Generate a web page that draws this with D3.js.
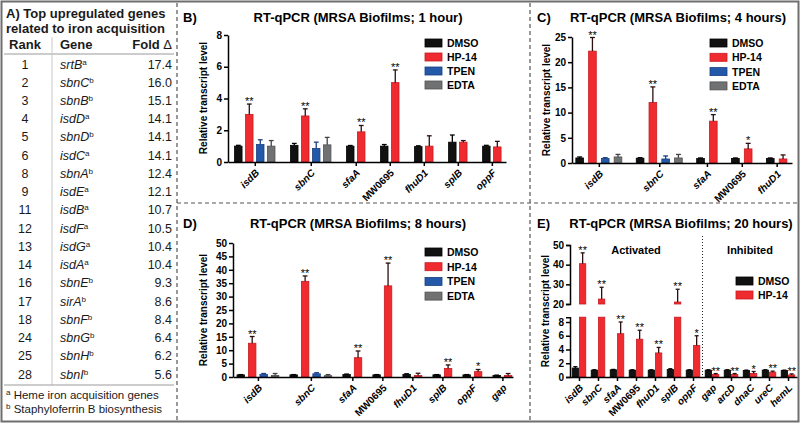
<!DOCTYPE html>
<html>
<head>
<meta charset="utf-8">
<script src="https://cdn.jsdelivr.net/npm/d3@7"></script>
<style>
body { margin: 0; background: #fff; }
svg { display: block; font-family: "Liberation Sans", Arial, sans-serif; }
</style>
</head>
<body>
<div id="chart"></div>
<script>
// ---- panel A table ----
var tableRank = [1, 2, 3, 4, 5, 6, 8, 9, 11, 12, 13, 14, 16, 17, 18, 24, 25, 28];
var tableGene = ['srtB', 'sbnC', 'sbnB', 'isdD', 'sbnD', 'isdC', 'sbnA', 'isdE', 'isdB',
    'isdF', 'isdG', 'isdA', 'sbnE', 'sirA', 'sbnF', 'sbnG', 'sbnH', 'sbnI'];
var tableNote = ['a', 'b', 'b', 'a', 'b', 'a', 'b', 'a', 'a', 'a', 'a', 'a', 'b', 'b', 'b', 'b', 'b', 'b'];
var tableFold = ['17.4', '16.0', '15.1', '14.1', '14.1', '14.1', '12.4', '12.1', '10.7',
    '10.5', '10.4', '10.4', '9.3', '8.6', '8.4', '6.4', '6.2', '5.6'];
var footNotes = ['Heme iron acquisition genes', 'Staphyloferrin B biosynthesis'];

var seriesNames = ['DMSO', 'HP-14', 'TPEN', 'EDTA'];

// ---- panel B: 1 hour ----
var genesB = ['isdB', 'sbnC', 'sfaA', 'MW0695', 'fhuD1', 'splB', 'oppF'];
var dmsoB = [1.0, 1.05, 1.0, 1.0, 0.97, 1.25, 1.0];
var dmsoErrB = [0.05, 0.12, 0.04, 0.1, 0.05, 0.45, 0.05];
var hp14B = [3.0, 2.9, 1.9, 5.0, 1.0, 1.25, 0.95];
var hp14ErrB = [0.65, 0.45, 0.4, 0.8, 0.65, 0.1, 0.35];
var tpenB = [1.1, 0.85];
var tpenErrB = [0.3, 0.4];
var edtaB = [1.0, 1.08];
var edtaErrB = [0.35, 0.47];
var starsB = ['**', '**', '**', '**', '', '', ''];
var yTicksB = [0, 2, 4, 6, 8];

// ---- panel C: 4 hours ----
var genesC = ['isdB', 'sbnC', 'sfaA', 'MW0695', 'fhuD1'];
var dmsoC = [1.0, 0.95, 0.9, 0.9, 0.9];
var dmsoErrC = [0.2, 0.1, 0.1, 0.1, 0.1];
var hp14C = [22.2, 12.0, 8.3, 2.8, 0.8];
var hp14ErrC = [2.7, 3.1, 1.3, 1.1, 0.8];
var tpenC = [0.9, 0.8];
var tpenErrC = [0.15, 0.6];
var edtaC = [1.2, 1.0];
var edtaErrC = [0.5, 0.7];
var starsC = ['**', '**', '**', '*', ''];
var yTicksC = [0, 5, 10, 15, 20, 25];

// ---- panel D: 8 hours ----
var genesD = ['isdB', 'sbnC', 'sfaA', 'MW0695', 'fhuD1', 'splB', 'oppF', 'gap'];
var dmsoD = [0.8, 0.8, 0.9, 0.8, 1.0, 0.8, 0.8, 0.6];
var dmsoErrD = [0.1, 0.1, 0.2, 0.1, 0.2, 0.1, 0.1, 0.1];
var hp14D = [12.6, 35.7, 7.2, 34.0, 0.6, 3.2, 2.0, 0.6];
var hp14ErrD = [2.5, 2.0, 2.5, 8.5, 0.8, 1.3, 0.8, 0.7];
var tpenD = [1.0, 1.2];
var tpenErrD = [0.3, 0.4];
var edtaD = [0.6, 0.5];
var edtaErrD = [0.7, 0.4];
var starsD = ['**', '**', '**', '**', '', '**', '*', ''];
var yTicksD = [0, 5, 10, 15, 20, 25, 30, 35, 40, 45, 50];

// ---- panel E: 20 hours ----
var genesE = ['isdB', 'sbnC', 'sfaA', 'MW0695', 'fhuD1', 'splB', 'oppF',
    'gap', 'arcD', 'dnaC', 'ureC', 'hemL'];
var dmsoE = [1.3, 1.0, 1.05, 1.0, 1.0, 1.1, 1.0, 1.0, 1.0, 0.95, 1.0, 0.95];
var dmsoErrE = [0.2, 0.05, 0.05, 0.05, 0.05, 0.1, 0.05, 0.05, 0.05, 0.05, 0.05, 0.05];
var hp14E = [40.5, 22.5, 6.3, 5.5, 3.5, 21.0, 4.6, 0.35, 0.35, 0.5, 0.7, 0.3];
var hp14ErrE = [5.5, 6.0, 1.7, 1.3, 0.8, 6.5, 1.4, 0.15, 0.15, 0.3, 0.15, 0.15];
var starsE = ['**', '**', '**', '**', '**', '**', '*', '**', '**', '*', '**', '**'];
var groupLabelsE = ['Activated', 'Inhibited'];
var yTicksELow = [0, 2, 4, 6, 8];
var yTicksEHigh = [20, 30, 40, 50];

var fills = {'DMSO': '#111111', 'HP-14': '#ef2b30', 'TPEN': '#2458a8', 'EDTA': '#707173'};
var strokes = {'DMSO': '#000000', 'HP-14': '#c81b20', 'TPEN': '#1a3f80', 'EDTA': '#505153'};
var errStroke = {'DMSO': '#000000', 'HP-14': '#2a1010', 'TPEN': '#1a3f80', 'EDTA': '#444444'};

var svg = d3.select('#chart').append('svg').attr('width', 800).attr('height', 423);

/* frame and panel dividers */
svg.append('rect').attr('x', 1.5).attr('y', 1.5).attr('width', 797).attr('height', 420)
    .attr('fill', 'none').attr('stroke', '#6e6e6e').attr('stroke-width', 2);
function dashed(x1, y1, x2, y2) {
    svg.append('line').attr('x1', x1).attr('y1', y1).attr('x2', x2).attr('y2', y2)
        .attr('stroke', '#555').attr('stroke-width', 1.2).attr('stroke-dasharray', '4,3');
}
dashed(177, 3, 177, 420);
dashed(177, 203, 797, 203);
dashed(530, 3, 530, 420);

/* ---------- panel A ---------- */
var gA = svg.append('g').attr('fill', '#1a1a1a');
gA.append('text').attr('x', 6).attr('y', 18).attr('font-size', 13).attr('font-weight', 'bold')
    .text('A) Top upregulated genes');
gA.append('text').attr('x', 6).attr('y', 33).attr('font-size', 13).attr('font-weight', 'bold')
    .text('related to iron acquisition');
gA.append('text').attr('x', 25).attr('y', 49).attr('text-anchor', 'middle')
    .attr('font-size', 13).attr('font-weight', 'bold').text('Rank');
gA.append('text').attr('x', 60).attr('y', 49)
    .attr('font-size', 13).attr('font-weight', 'bold').text('Gene');
var foldHead = gA.append('text').attr('x', 172).attr('y', 49).attr('text-anchor', 'end')
    .attr('font-size', 13).attr('font-weight', 'bold');
foldHead.append('tspan').text('Fold ');
foldHead.append('tspan').attr('font-weight', 'normal').text('\u0394');

gA.append('line').attr('x1', 4).attr('x2', 174).attr('y1', 54).attr('y2', 54)
    .attr('stroke', '#9a9a9a').attr('stroke-width', 1);
gA.append('line').attr('x1', 52).attr('x2', 52).attr('y1', 37).attr('y2', 385)
    .attr('stroke', '#c8c8c8').attr('stroke-width', 1);
gA.append('line').attr('x1', 4).attr('x2', 174).attr('y1', 385).attr('y2', 385)
    .attr('stroke', '#9a9a9a').attr('stroke-width', 1);

var rowY = d3.scaleLinear().domain([0, tableRank.length - 1]).range([68.5, 378.5]);
tableRank.forEach(function (r, i) {
    gA.append('text').attr('x', 25).attr('y', rowY(i)).attr('text-anchor', 'middle')
        .attr('font-size', 12.5).text(r);
    var t = gA.append('text').attr('x', 60).attr('y', rowY(i)).attr('font-size', 12.5);
    t.append('tspan').attr('font-style', 'italic').text(tableGene[i]);
    t.append('tspan').attr('font-size', 8).attr('dy', -4).text(tableNote[i]);
    gA.append('text').attr('x', 172).attr('y', rowY(i)).attr('text-anchor', 'end')
        .attr('font-size', 12.5).text(tableFold[i]);
});
footNotes.forEach(function (f, i) {
    var t = gA.append('text').attr('x', 6).attr('y', 399 + i * 14).attr('font-size', 11.5);
    t.append('tspan').attr('font-size', 8).attr('dy', -4).text(i === 0 ? 'a' : 'b');
    t.append('tspan').attr('dy', 4).text(' ' + f);
});

/* ---------- bar panels ---------- */
function styleAxis(ga) {
    ga.attr('font-family', null).attr('font-size', null);
    ga.select('.domain').attr('stroke', '#000').attr('stroke-width', 1.5);
    ga.selectAll('.tick line').attr('stroke', '#000').attr('stroke-width', 1.5);
    ga.selectAll('.tick text').attr('font-size', 10).attr('font-weight', 'bold').attr('fill', '#000');
}

function drawPanel(p) {
    var g = svg.append('g');
    var unit = p.padL, bars = [], centers = [], starts = [];
    p.genes.forEach(function (gene, i) {
        var k = 0, start = unit;
        p.series.forEach(function (s) {
            if (i < s.values.length) {
                bars.push({name: s.name, u: unit + k, v: s.values[i], e: s.errors[i], i: i});
                k++;
            }
        });
        starts.push(start);
        centers.push(start + (k - 1 + p.barW) / 2);
        unit += k + p.gap;
    });
    var total = unit - p.gap - 1 + p.barW + p.padR;
    var x = d3.scaleLinear().domain([0, total]).range([p.x0, p.x1]);

    bars.forEach(function (b) {
        var bx0 = x(b.u), bx1 = x(b.u + p.barW), cx = (bx0 + bx1) / 2, cw = (bx1 - bx0) * 0.32;
        p.segments(b.v).forEach(function (sg) {
            g.append('rect').attr('x', bx0).attr('y', sg[0]).attr('width', bx1 - bx0)
                .attr('height', Math.max(0, sg[1] - sg[0]))
                .attr('fill', fills[b.name]).attr('stroke', strokes[b.name]).attr('stroke-width', 0.8);
        });
        var yt = p.y(b.v + b.e), yb = p.y(b.v);
        g.append('line').attr('x1', cx).attr('x2', cx).attr('y1', yb).attr('y2', yt)
            .attr('stroke', errStroke[b.name]).attr('stroke-width', 1.3);
        g.append('line').attr('x1', cx - cw).attr('x2', cx + cw).attr('y1', yt).attr('y2', yt)
            .attr('stroke', errStroke[b.name]).attr('stroke-width', 1.3);
        if (b.name === 'HP-14' && p.stars[b.i]) {
            g.append('text').attr('x', cx).attr('y', yt + 1).attr('text-anchor', 'middle')
                .attr('font-size', 11).attr('fill', '#000').text(p.stars[b.i]);
        }
    });

    var gx = g.append('g').attr('transform', 'translate(0,' + p.baseY + ')')
        .call(d3.axisBottom(x).tickValues(centers).tickSize(4).tickSizeOuter(0)
            .tickFormat(function (d) { return p.genes[centers.indexOf(d)]; }));
    styleAxis(gx);
    gx.selectAll('.tick text').attr('x', 0).attr('y', 0).attr('dy', '0.35em')
        .attr('transform', 'translate(2,9) rotate(-45)').style('text-anchor', 'end')
        .attr('font-style', function (d) {
            return /^MW/.test(p.genes[centers.indexOf(d)]) ? 'normal' : 'italic';
        });

    p.drawY(g);

    g.append('text').attr('transform', 'translate(' + p.yLabelX + ',' + p.yLabelY + ') rotate(-90)')
        .attr('text-anchor', 'middle').attr('font-size', 10).attr('font-weight', 'bold')
        .text('Relative transcript level');
    g.append('text').attr('x', p.letterX).attr('y', p.titleY).attr('font-size', 13)
        .attr('font-weight', 'bold').text(p.letter);
    g.append('text').attr('x', p.titleX).attr('y', p.titleY).attr('text-anchor', 'middle')
        .attr('font-size', 13).attr('font-weight', 'bold').text(p.title);

    p.series.forEach(function (s, k) {
        var ly = p.legY + k * p.legStep;
        g.append('rect').attr('x', p.legX).attr('y', ly - 4).attr('width', 17).attr('height', 8)
            .attr('fill', fills[s.name]).attr('stroke', strokes[s.name]).attr('stroke-width', 0.8);
        g.append('text').attr('x', p.legX + 22).attr('y', ly + 4).attr('font-size', 10.5)
            .attr('font-weight', 'bold').text(s.name);
    });
    return {g: g, x: x, starts: starts, centers: centers, barW: p.barW, gap: p.gap};
}

function plainPanel(ticks, domainMax, y0, y1, axisX) {
    var y = d3.scaleLinear().domain([0, domainMax]).range([y0, y1]);
    return {
        y: y,
        segments: function (v) { return [[y(v), y(0)]]; },
        drawY: function (g) {
            var ga = g.append('g').attr('transform', 'translate(' + axisX + ',0)')
                .call(d3.axisLeft(y).tickValues(ticks).tickSize(4).tickSizeOuter(0).tickPadding(2));
            styleAxis(ga);
        }
    };
}

function mkSeries(names, vals, errs) {
    return names.map(function (n, k) { return {name: n, values: vals[k], errors: errs[k]}; });
}

var yB = plainPanel(yTicksB, 8, 162, 35, 228);
drawPanel({
    genes: genesB, stars: starsB,
    series: mkSeries(seriesNames, [dmsoB, hp14B, tpenB, edtaB], [dmsoErrB, hp14ErrB, tpenErrB, edtaErrB]),
    x0: 228, x1: 506, baseY: 162, barW: 0.68, gap: 1.1, padL: 0.6, padR: 0.45,
    y: yB.y, segments: yB.segments, drawY: yB.drawY,
    yLabelX: 207, yLabelY: 98, letter: 'B)', letterX: 183, title: 'RT-qPCR (MRSA Biofilms; 1 hour)',
    titleX: 358, titleY: 22, legX: 425, legY: 43, legStep: 14
});

var yC = plainPanel(yTicksC, 25, 163, 37, 572);
drawPanel({
    genes: genesC, stars: starsC,
    series: mkSeries(seriesNames, [dmsoC, hp14C, tpenC, edtaC], [dmsoErrC, hp14ErrC, tpenErrC, edtaErrC]),
    x0: 572, x1: 792, baseY: 163, barW: 0.6, gap: 0.73, padL: 0.3, padR: 0.4,
    y: yC.y, segments: yC.segments, drawY: yC.drawY,
    yLabelX: 550, yLabelY: 100, letter: 'C)', letterX: 537, title: 'RT-qPCR (MRSA Biofilms; 4 hours)',
    titleX: 678, titleY: 22, legX: 710, legY: 43, legStep: 14.3
});

var yD = plainPanel(yTicksD, 50, 377, 243, 233);
drawPanel({
    genes: genesD, stars: starsD,
    series: mkSeries(seriesNames, [dmsoD, hp14D, tpenD, edtaD], [dmsoErrD, hp14ErrD, tpenErrD, edtaErrD]),
    x0: 233, x1: 513, baseY: 377, barW: 0.65, gap: 0.62, padL: 0.35, padR: 0.1,
    y: yD.y, segments: yD.segments, drawY: yD.drawY,
    yLabelX: 207, yLabelY: 310, letter: 'D)', letterX: 183, title: 'RT-qPCR (MRSA Biofilms; 8 hours)',
    titleX: 358, titleY: 228, legX: 425, legY: 252, legStep: 14.7
});

/* panel E: broken y axis */
var lowMax = 8.7;
var yLow = d3.scaleLinear().domain([0, 8]).range([377, 322]);
var yHigh = d3.scaleLinear().domain([20, 50]).range([304, 245]);
function yE(v) { return v <= lowMax ? yLow(v) : yHigh(Math.max(v, 20)); }
var panelE = drawPanel({
    genes: genesE, stars: starsE,
    series: mkSeries(seriesNames.slice(0, 2), [dmsoE, hp14E], [dmsoErrE, hp14ErrE]),
    x0: 570, x1: 797, baseY: 377, barW: 0.86, gap: 0.6, padL: 0.3, padR: 0.3,
    y: yE,
    segments: function (v) {
        if (v <= lowMax) return [[yLow(v), yLow(0)]];
        return [[yLow(lowMax), yLow(0)], [yHigh(v), yHigh(20)]];
    },
    drawY: function (g) {
        var lowAxisScale = yLow.copy().domain([0, lowMax]).range([yLow(0), yLow(lowMax)]);
        var gl = g.append('g').attr('transform', 'translate(570,0)')
            .call(d3.axisLeft(lowAxisScale).tickValues(yTicksELow).tickSize(4).tickSizeOuter(4).tickPadding(2));
        styleAxis(gl);
        var gh = g.append('g').attr('transform', 'translate(570,0)')
            .call(d3.axisLeft(yHigh).tickValues(yTicksEHigh).tickSize(4).tickSizeOuter(4).tickPadding(2));
        styleAxis(gh);
    },
    yLabelX: 549, yLabelY: 311, letter: 'E)', letterX: 537, title: 'RT-qPCR (MRSA Biofilms; 20 hours)',
    titleX: 681, titleY: 228, legX: 736, legY: 281, legStep: 14
});

// dotted separator between activated and inhibited genes
var sepU = panelE.starts[7] - (panelE.gap + 1 - panelE.barW) / 2;
panelE.g.append('line').attr('x1', panelE.x(sepU)).attr('x2', panelE.x(sepU))
    .attr('y1', 236).attr('y2', 377).attr('stroke', '#222').attr('stroke-width', 1)
    .attr('stroke-dasharray', '1,2');
[[0, 6], [7, 11]].forEach(function (r, k) {
    var mid = (panelE.centers[r[0]] + panelE.centers[r[1]]) / 2;
    panelE.g.append('text').attr('x', panelE.x(mid)).attr('y', 254)
        .attr('text-anchor', 'middle').attr('font-size', 11).attr('font-weight', 'bold')
        .text(groupLabelsE[k]);
});
</script>
</body>
</html>
